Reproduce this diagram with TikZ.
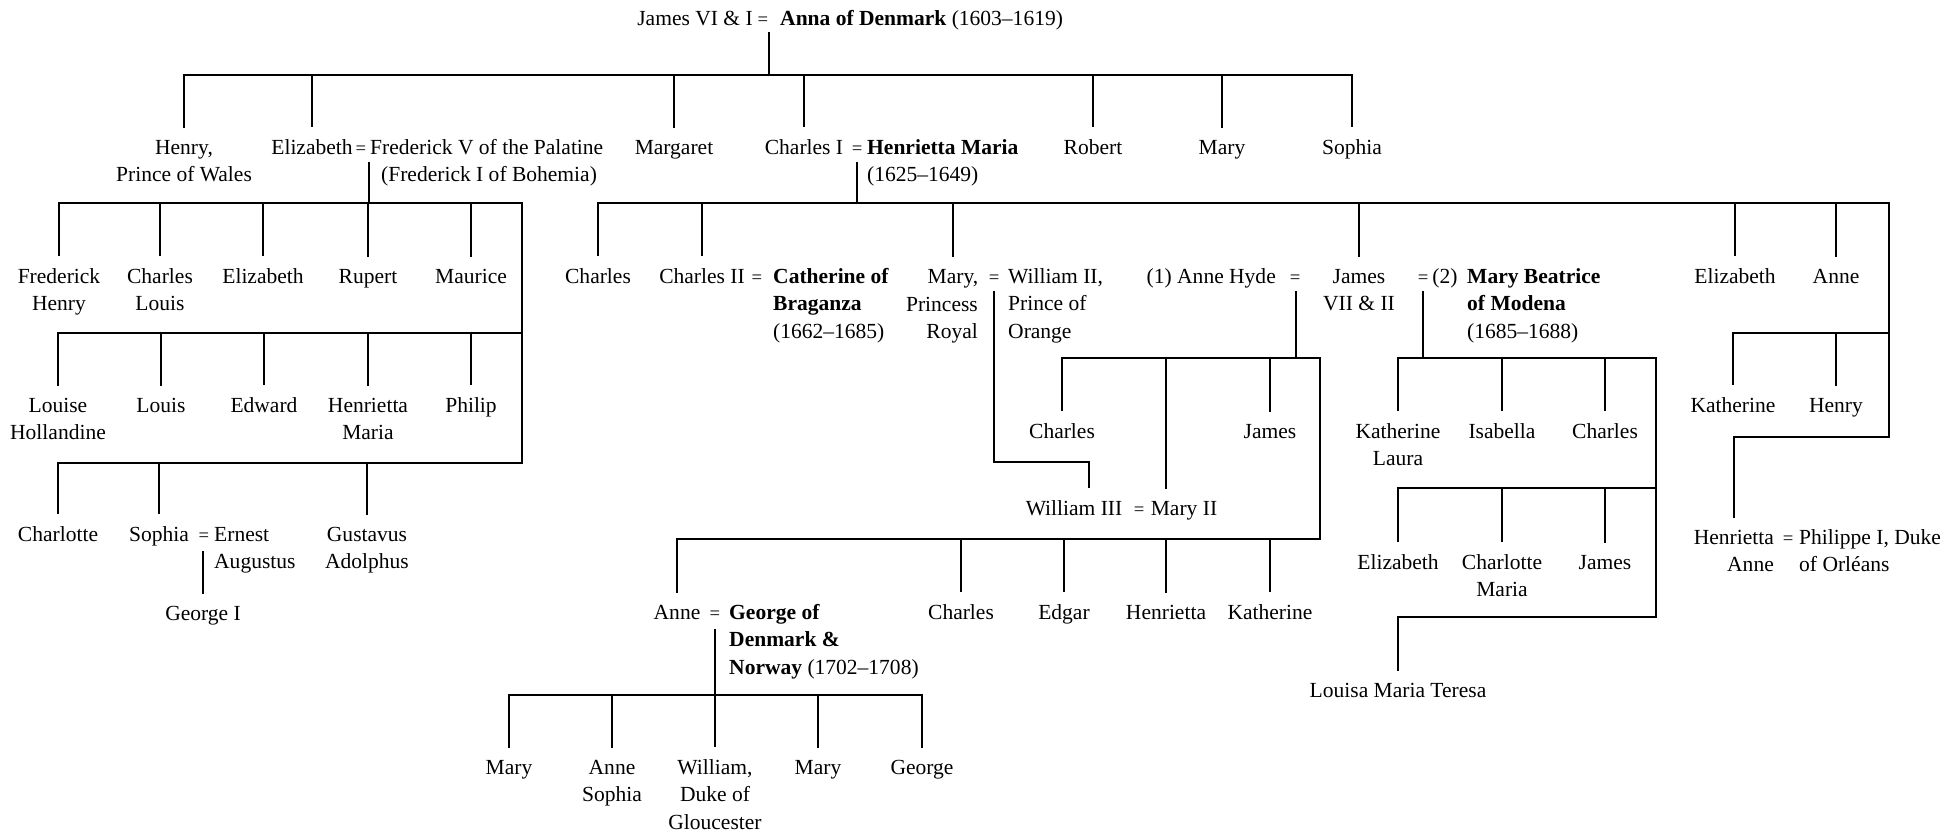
\documentclass[tikz,border=0pt]{standalone}
\usepackage{fontspec}
\setmainfont{Liberation Serif}
\usepackage{tikz}

\newcommand{\treefont}{\fontsize{9.8}{12.7}\selectfont}

\begin{document}
\begin{tikzpicture}[x=0.016cm, y=-0.016cm, line width=1.1pt, line cap=rect,
		person/.style={font=\treefont, align=center, inner sep=0pt, outer ysep=6pt, anchor=base},
		spouse/.style={font=\treefont, align=left, inner sep=0pt, anchor=base west},
		eqsign/.style={font=\fontsize{8.5}{10}\selectfont, inner sep=0pt, anchor=base},
		twolines/.style={yshift=-12.7pt},
		threelines/.style={yshift=-25.4pt}]
	\useasboundingbox (0,0) rectangle (1948,834);

	% Pareja raiz
	\node[person] (jamesI) at (695,25) {James VI \& I};
	\node[eqsign] (eqroot) at (763,25) {=};
	\node[spouse] (anna) at (779,25) {\textbf{Anna of Denmark} (1603–1619)};

	% Hijos de James VI & I
	\node[person, twolines] (henry) at (184,154) {Henry,\\Prince of Wales};
	\node[person] (elizabeth) at (312,154) {Elizabeth};
	\node[eqsign] (eqeliz) at (361,154) {=};
	\node[spouse, twolines] (frederick) at (369,154) {Frederick V of the Palatine\\\hspace*{5pt}(Frederick I of Bohemia)};
	\node[person] (margaret) at (674,154) {Margaret};
	\node[person] (charlesI) at (804,154) {Charles I};
	\node[eqsign] (eqcharles) at (857,154) {=};
	\node[spouse, twolines] (henriettamaria) at (866,154) {\textbf{Henrietta Maria}\\(1625–1649)};
	\node[person] (robert) at (1093,154) {Robert};
	\node[person] (mary) at (1222,154) {Mary};
	\node[person] (sophia) at (1352,154) {Sophia};

	\coordinate (kidsJ) at (0,75);
	\coordinate (rootknot) at ([shift={(6,8)}]eqroot.base);
	\draw (rootknot) -- (rootknot |- kidsJ);
	\draw (henry.north |- kidsJ) -- (sophia.north |- kidsJ);
	\foreach \k in {henry,elizabeth,margaret,charlesI,robert,mary,sophia}
		\draw (\k.north |- kidsJ) -- (\k.north);

	% Hijos de Elizabeth y Frederick
	\node[person, twolines] (frederickhenry) at (59,283) {Frederick\\Henry};
	\node[person, twolines] (charleslouis) at (160,283) {Charles\\Louis};
	\node[person] (elizabethP) at (263,283) {Elizabeth};
	\node[person] (rupert) at (368,283) {Rupert};
	\node[person] (maurice) at (471,283) {Maurice};
	\node[person, twolines] (louise) at (58,412) {Louise\\Hollandine};
	\node[person] (louis) at (161,412) {Louis};
	\node[person] (edward) at (264,412) {Edward};
	\node[person, twolines] (henriettaP) at (368,412) {Henrietta\\Maria};
	\node[person] (philip) at (471,412) {Philip};
	\node[person] (charlotte) at (58,541) {Charlotte};
	\node[person] (sophiaP) at (159,541) {Sophia};
	\node[eqsign] (eqsophia) at (204,541) {=};
	\node[spouse, twolines] (ernest) at (213,541) {Ernest\\Augustus};
	\node[person, twolines] (gustavus) at (367,541) {Gustavus\\Adolphus};
	\node[person] (georgeI) at (203,620) {George I};

	\coordinate (elizbarA) at (522,203);
	\coordinate (elizbarB) at (522,333);
	\coordinate (elizbarC) at (522,463);
	\path (eqeliz.base -| frederick.west) ++(0,9) coordinate (elizknot);
	\draw (elizknot) -- (elizknot |- elizbarA);
	\draw (frederickhenry.north |- elizbarA) -- (elizbarA) -- (elizbarC) -- (charlotte.north |- elizbarC);
	\draw (louise.north |- elizbarB) -- (elizbarB);
	\foreach \k in {frederickhenry,charleslouis,elizabethP,rupert,maurice}
		\draw (\k.north |- elizbarA) -- (\k.north);
	\foreach \k in {louise,louis,edward,henriettaP,philip}
		\draw (\k.north |- elizbarB) -- (\k.north);
	\foreach \k in {charlotte,sophiaP,gustavus}
		\draw (\k.north |- elizbarC) -- (\k.north);
	\path (eqsophia.base) ++(-1,11) coordinate (sophiaknot);
	\draw (sophiaknot) -- (sophiaknot |- georgeI.north);

	% Hijos de Charles I y Henrietta Maria
	\node[person] (charlesS) at (598,283) {Charles};
	\node[person] (charlesII) at (702,283) {Charles II};
	\node[eqsign] (eqcatherine) at (757,283) {=};
	\node[spouse, threelines] (catherine) at (772,283) {\textbf{Catherine of}\\\textbf{Braganza}\\(1662–1685)};
	\node[person] (maryPR) at (953,283) {Mary,};
	\node[spouse, align=right, anchor=base east, twolines] (princessroyal) at (979,311) {Princess\\Royal};
	\node[eqsign] (eqwilliam) at (994,283) {=};
	\node[spouse, threelines] (williamII) at (1007,283) {William II,\\Prince of\\Orange};
	\node[spouse, anchor=base east] (annehyde) at (1277,283) {(1) Anne Hyde};
	\node[eqsign] (eqhyde) at (1295,283) {=};
	\node[person, twolines] (jamesII) at (1359,283) {James\\VII \& II};
	\node[eqsign] (eqmodena) at (1423,283) {=};
	\node[spouse, anchor=base] (modenanum) at (1445,283) {(2)};
	\node[spouse, threelines] (marybeatrice) at (1466,283) {\textbf{Mary Beatrice}\\\textbf{of Modena}\\(1685–1688)};
	\node[person] (elizabethC) at (1735,283) {Elizabeth};
	\node[person] (anneC) at (1836,283) {Anne};

	\coordinate (charlesbarA) at (1889,203);
	\coordinate (charlesbarB) at (1889,333);
	\coordinate (charlesbarC) at (1889,437);
	\path (eqcharles.base) ++(0,9) coordinate (charlesknot);
	\draw (charlesknot) -- (charlesknot |- charlesbarA);
	\foreach \k in {charlesS,charlesII,maryPR,jamesII,elizabethC,anneC}
		\draw (\k.north |- charlesbarA) -- (\k.north);

	% Hijos de Anne (Elizabeth) y Henrietta Anne
	\node[person] (katherineC) at (1733,412) {Katherine};
	\node[person] (henryC) at (1836,412) {Henry};
	\node[person, align=right, anchor=base east, twolines] (henriettaanne) at (1775,544) {Henrietta\\Anne};
	\node[eqsign] (eqphilippe) at (1788,544) {=};
	\node[spouse, twolines] (philippe) at (1798,544) {Philippe I, Duke\\of Orléans};

	\draw (charlesS.north |- charlesbarA) -- (charlesbarA) -- (charlesbarC) -- (henriettaanne.north |- charlesbarC);
	\draw (katherineC.north |- charlesbarB) -- (charlesbarB);
	\foreach \k in {katherineC,henryC}
		\draw (\k.north |- charlesbarB) -- (\k.north);
	\draw (henriettaanne.north |- charlesbarC) -- (henriettaanne.north);

	% Hijos de James VII & II y Anne Hyde
	\node[person] (charlesH) at (1062,438) {Charles};
	\node[person] (jamesH) at (1270,438) {James};
	\node[person] (williamIII) at (1074,515) {William III};
	\node[eqsign] (eqmaryII) at (1139,515) {=};
	\node[person] (maryII) at (1184,515) {Mary II};
	\node[person] (anneS) at (677,619) {Anne};
	\node[eqsign] (eqgeorge) at (715,619) {=};
	\node[spouse, threelines] (georgeD) at (728,619) {\textbf{George of}\\\textbf{Denmark \&}\\\textbf{Norway} (1702–1708)};
	\node[person] (charlesJ) at (961,619) {Charles};
	\node[person] (edgar) at (1064,619) {Edgar};
	\node[person] (henriettaJ) at (1166,619) {Henrietta};
	\node[person] (katherineJ) at (1270,619) {Katherine};

	\coordinate (hydebarA) at (1320,358);
	\coordinate (hydebarB) at (1320,539);
	\coordinate (maryIIknot) at (1166,358);
	\coordinate (orangebend) at (1089,462);
	\path (eqhyde.base) ++(1,9) coordinate (hydeknot);
	\draw (hydeknot) -- (hydeknot |- hydebarA);
	\draw (charlesH.north |- hydebarA) -- (hydebarA) -- (hydebarB) -- (anneS.north |- hydebarB);
	\foreach \k in {charlesH,jamesH}
		\draw (\k.north |- hydebarA) -- (\k.north);
	\draw (maryIIknot) -- (maryIIknot |- maryII.north);
	\path (eqwilliam.base) ++(0,9) coordinate (maryknot);
	\draw (maryknot) |- (orangebend) -- (orangebend |- williamIII.north);
	\foreach \k in {anneS,charlesJ,edgar,henriettaJ,katherineJ}
		\draw (\k.north |- hydebarB) -- (\k.north);

	% Hijos de Anne y George
	\node[person] (maryA) at (509,774) {Mary};
	\node[person, twolines] (annesophia) at (612,774) {Anne\\Sophia};
	\node[person, threelines] (gloucester) at (715,774) {William,\\Duke of\\Gloucester};
	\node[person] (maryB) at (818,774) {Mary};
	\node[person] (georgeA) at (922,774) {George};

	\coordinate (annebar) at (0,695);
	\path (eqgeorge.base) ++(0,11) coordinate (georgeknot);
	\draw (georgeknot) -- (georgeknot |- annebar);
	\draw (maryA.north |- annebar) -- (georgeA.north |- annebar);
	\foreach \k in {maryA,annesophia,gloucester,maryB,georgeA}
		\draw (\k.north |- annebar) -- (\k.north);

	% Hijos de James VII & II y Mary Beatrice
	\node[person, twolines] (katherinelaura) at (1398,438) {Katherine\\Laura};
	\node[person] (isabella) at (1502,438) {Isabella};
	\node[person] (charlesM) at (1605,438) {Charles};
	\node[person] (elizabethM) at (1398,569) {Elizabeth};
	\node[person, twolines] (charlottemaria) at (1502,569) {Charlotte\\Maria};
	\node[person] (jamesM) at (1605,569) {James};
	\node[person] (louisa) at (1398,697) {Louisa Maria Teresa};

	\coordinate (modenabarA) at (1656,358);
	\coordinate (modenabarB) at (1656,488);
	\coordinate (modenabarC) at (1656,617);
	\path (eqmodena.base) ++(0,9) coordinate (modenaknot);
	\draw (modenaknot) -- (modenaknot |- modenabarA);
	\draw (katherinelaura.north |- modenabarA) -- (modenabarA) -- (modenabarC) -- (louisa.north |- modenabarC);
	\draw (elizabethM.north |- modenabarB) -- (modenabarB);
	\foreach \k in {katherinelaura,isabella,charlesM}
		\draw (\k.north |- modenabarA) -- (\k.north);
	\foreach \k in {elizabethM,charlottemaria,jamesM}
		\draw (\k.north |- modenabarB) -- (\k.north);
	\draw (louisa.north |- modenabarC) -- (louisa.north);

\end{tikzpicture}
\end{document}
